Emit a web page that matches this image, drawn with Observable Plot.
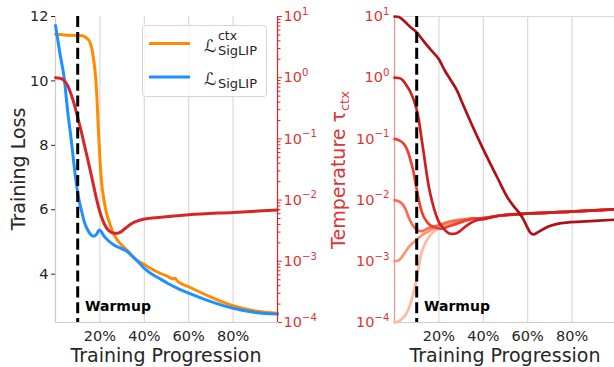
<!DOCTYPE html>
<html>
<head>
<meta charset="utf-8">
<script src="https://cdn.jsdelivr.net/npm/d3@7"></script>
<script src="https://cdn.jsdelivr.net/npm/@observablehq/plot@0.6"></script>
<style>
html, body { margin: 0; padding: 0; background: #fff; overflow: hidden; }
#chart { position: relative; width: 614px; height: 367px; overflow: hidden; font-family: "DejaVu Sans"; }
#chart svg { position: absolute; top: 0; max-width: none !important; }
</style>
</head>
<body>
<div id="chart"></div>
<script>
// ---------------- data ----------------
const xTickValues = [20, 40, 60, 80];
const lossTicks = [4, 6, 8, 10, 12];
const tempTicks = [1e-4, 1e-3, 1e-2, 1e-1, 1, 10];
const warmupAt = 10;

// left panel: training losses
const ctxX = [0,5,10,12,14,15.5,16.5,17.5,18.2,18.8,19.3,20,20.7,21.7,22.7,24.3,26.2,28.5,32.5,35.5,40,45,50.5,53,53.8,55,60,70,80,90,100];
const ctxLoss = [11.45,11.42,11.41,11.40,11.33,11.2,10.95,10.5,10.0,9.3,8.5,7.6,6.9,6.35,5.98,5.6,5.25,5.0,4.73,4.49,4.3,4.1,3.93,3.86,3.87,3.78,3.61,3.29,3.02,2.86,2.79];
const sigX = [0,2,3.9,5.5,7.3,8.5,9.6,10.6,11.7,13,14.5,16,17.2,18.5,19.7,20.5,21.7,23.5,26,29.5,32,34,37,40,43,47.5,50.5,55,60,70,80,90,100];
const sigLoss = [11.72,10.85,10.1,9.05,8.05,7.3,6.71,6.3,5.98,5.62,5.37,5.22,5.18,5.24,5.37,5.33,5.2,5.06,4.92,4.80,4.72,4.6,4.4,4.18,4.02,3.84,3.72,3.56,3.41,3.15,2.94,2.81,2.76];
// left panel: learned temperature
const tempX = [0,2,3.9,5.5,6.9,8.5,10,11.5,12.9,14.5,16,17.5,19,20.5,22,24,26.4,28,29.5,31.5,34,37,40,47.5,60,80,100];
const tempVal = [1.0,0.98,0.9,0.74,0.55,0.363,0.224,0.138,0.083,0.0468,0.0269,0.0151,0.0087,0.0056,0.00407,0.00316,0.00288,0.00288,0.00302,0.00347,0.00407,0.00457,0.0049,0.00525,0.00575,0.0063,0.0069];

// right panel: temperature runs by initial value
const runX_1e1 = [0,2,4.2,7,10.2,13,16,20,22.7,25,28,31,34,37,40,43.2,46.3,50.8,54,56,58,59.5,61.3,62.7,64,65.8,68,70.3,75,79.3,90,100];
const runT_1e1 = [10,9.8,8.5,6.8,5.4,4.0,2.95,2.0,1.3,0.955,0.63,0.355,0.2,0.115,0.0676,0.039,0.0234,0.0112,0.0077,0.0063,0.0049,0.0038,0.0029,0.00275,0.0029,0.00316,0.0035,0.0038,0.0042,0.00437,0.00457,0.0048];
const runX_1e0 = [0,2,3.5,5,7,8.7,10,11,12,13.2,14.3,15.5,17,18.5,20,22.2,24,26,28,29.7,32,34.2,37,40.2,47.7,59,79.3,100];
const runT_1e0 = [1.0,0.99,0.93,0.79,0.6,0.43,0.30,0.2,0.112,0.0575,0.030,0.0162,0.0093,0.006,0.00437,0.0034,0.00295,0.0028,0.00288,0.00316,0.0037,0.0042,0.0047,0.0049,0.0056,0.006,0.0065,0.0071];
const runX_1e_1 = [0,2,4.2,6,7.2,8.5,9.5,10.6,11.7,13,14.7,16,17.7,19.5,21.5,23,25.2,30,34.2,40,47.7,59,79.3,100];
const runT_1e_1 = [0.1,0.095,0.083,0.063,0.0447,0.0295,0.0186,0.0117,0.0076,0.0055,0.00437,0.0039,0.00363,0.00347,0.0034,0.00355,0.0038,0.00437,0.0049,0.0051,0.0056,0.006,0.0065,0.0071];
const runX_1e_2 = [0,2,3.5,5,6.4,8,9.5,11.7,13,14.7,17,19.2,23,28.2,34,40,47.7,59,79.3,100];
const runT_1e_2 = [0.01,0.0095,0.0087,0.0071,0.0052,0.004,0.0034,0.0031,0.00316,0.0034,0.00363,0.0038,0.00427,0.0047,0.005,0.0051,0.0056,0.006,0.0065,0.0071];
const runX_1e_3 = [0,1.5,2.7,4.5,6.4,8.3,10.2,12.5,14.7,17.5,20.7,24,28.2,34,40,47.7,59,79.3,100];
const runT_1e_3 = [0.001,0.00102,0.0011,0.00135,0.0017,0.002,0.00229,0.00269,0.003,0.0034,0.0038,0.00417,0.00447,0.0049,0.0051,0.0056,0.006,0.0065,0.0071];
const runX_1e_4 = [0,2,4.2,5.8,7.2,8.5,9.5,10.6,11.7,12.8,14,15.5,17,20.7,24,28.2,34,40,47.7,59,79.3,100];
const runT_1e_4 = [0.0001,0.000105,0.000123,0.00015,0.000204,0.0003,0.000427,0.0007,0.00117,0.00162,0.00204,0.0025,0.00288,0.00363,0.0041,0.00437,0.0048,0.0051,0.0056,0.006,0.0065,0.0071];

// ---------------- styles ----------------
const FONT = "DejaVu Sans";
const INK = "#262626";
const GRID = "#d9d9d9";
const SPINE = "#cccccc";
const RED = "#d62728";
const LABEL_RED = "#dc3535";
const PINK = "#f09090";
const ORANGE = "#ff8c00";
const BLUE = "#1e90ff";
const runColors = ["#fcbba1", "#fc9474", "#fb6c4c", "#f03f2e", "#d01d1f", "#ac1117"];

const H = 367, MT = 16, MB = 45;
const rows = (xs, ys) => xs.map((x, i) => ({x, y: ys[i]}));
const expFmt = d => "10^" + String(Math.round(Math.log10(d))).replace("-", "\u2212");
const minorTicks = [];
for (let e = -4; e < 1; e++) for (let k = 2; k <= 9; k++) minorTicks.push(k * Math.pow(10, e));

function base(w, ml, mr) {
  return {
    width: w, height: H, marginTop: MT, marginBottom: MB, marginLeft: ml, marginRight: mr,
    style: {background: "transparent", fontFamily: FONT, fontSize: "14.5px", color: INK, overflow: "visible"}
  };
}
const dashed = {stroke: "black", strokeWidth: 3, strokeDasharray: "11.1,4.8"};
const warmupText = () => Plot.text(["Warmup"], {
  x: () => 13.3, frameAnchor: "bottom", dy: -12, textAnchor: "start",
  fontWeight: "bold", fontSize: 14, fill: "black"
});

// ---------------- left panel: losses ----------------
const svgLoss = Plot.plot({
  ...base(310, 55, 33),
  x: {domain: [0, 100]},
  y: {domain: [2.5, 12]},
  marks: [
    Plot.ruleX(xTickValues, {stroke: GRID, strokeWidth: 1.2}),
    Plot.ruleX([0], {stroke: SPINE, strokeWidth: 1.2}),
    Plot.ruleY([2.5], {stroke: SPINE, strokeWidth: 1.2}),
    Plot.axisY({ticks: lossTicks, tickSize: 4, tickPadding: 3, label: null, color: INK}),
    Plot.axisX({ticks: xTickValues, tickFormat: d => d + "%", tickSize: 0, tickPadding: 8, label: null, color: INK}),
    Plot.line(rows(ctxX, ctxLoss), {x: "x", y: "y", stroke: ORANGE, strokeWidth: 3, curve: "monotone-x"}),
    Plot.line(rows(sigX, sigLoss), {x: "x", y: "y", stroke: BLUE, strokeWidth: 3, curve: "monotone-x"})
  ]
});

// ---------------- left panel: temperature (twin axis) ----------------
const svgTemp = Plot.plot({
  ...base(310, 55, 33),
  x: {domain: [0, 100], axis: null},
  y: {type: "log", domain: [1e-4, 10]},
  marks: [
    Plot.line(rows(tempX, tempVal), {x: "x", y: "y", stroke: RED, strokeWidth: 3, curve: "monotone-x"}),
    Plot.ruleX([100], {stroke: RED, strokeWidth: 1.2}),
    Plot.axisY({anchor: "right", ticks: minorTicks, tickSize: 2.5, tickFormat: () => "", label: null, color: RED}),
    Plot.axisY({anchor: "right", ticks: tempTicks, tickSize: 4, tickPadding: 2, tickFormat: expFmt, label: null, color: LABEL_RED}),
    Plot.ruleX([warmupAt], dashed),
    warmupText()
  ]
});

// ---------------- right panel ----------------
const runs = [
  [runX_1e_4, runT_1e_4], [runX_1e_3, runT_1e_3], [runX_1e_2, runT_1e_2],
  [runX_1e_1, runT_1e_1], [runX_1e0, runT_1e0], [runX_1e1, runT_1e1]
];
const svgRight = Plot.plot({
  ...base(310, 84, 4),
  x: {domain: [0, 100]},
  y: {type: "log", domain: [1e-4, 10]},
  marks: [
    Plot.ruleX(xTickValues, {stroke: GRID, strokeWidth: 1.2}),
    Plot.ruleY([10], {stroke: GRID, strokeWidth: 1.2}),
    Plot.ruleY([1e-4], {stroke: SPINE, strokeWidth: 1.2}),
    Plot.ruleX([0], {stroke: PINK, strokeWidth: 1.2}),
    Plot.axisY({ticks: tempTicks, tickSize: 0, tickPadding: 5, tickFormat: expFmt, label: null, color: LABEL_RED}),
    Plot.axisX({ticks: xTickValues, tickFormat: d => d + "%", tickSize: 0, tickPadding: 8, label: null, color: INK}),
    ...runs.map(([xs, ts], i) => Plot.line(rows(xs, ts), {x: "x", y: "y", stroke: runColors[i], strokeWidth: 2.7, curve: "monotone-x"})),
    Plot.ruleX([warmupAt], dashed),
    warmupText()
  ]
});

const chart = document.getElementById("chart");
svgLoss.style.left = "0px";
svgTemp.style.left = "0px";
svgRight.style.left = "310px";
chart.append(svgLoss, svgTemp, svgRight);

// superscript exponents on log tick labels
for (const svg of [svgTemp, svgRight]) {
  d3.select(svg).selectAll("text").each(function () {
    const m = /^10\^(.+)$/.exec(this.textContent);
    if (m) {
      const el = d3.select(this);
      el.text("10");
      el.append("tspan").attr("dy", "-0.62em").attr("font-size", "0.7em").text(m[1]);
    }
  });
}

// ---------------- titles & legend overlay ----------------
const ov = d3.select(chart).append("svg")
  .attr("width", 614).attr("height", 367)
  .style("left", "0px").style("pointer-events", "none")
  .attr("font-family", FONT);

ov.append("text").attr("transform", "translate(25,169) rotate(-90)")
  .attr("text-anchor", "middle").attr("font-size", 19).attr("fill", INK).text("Training Loss");
const tl = ov.append("text").attr("transform", "translate(345,170) rotate(-90)")
  .attr("text-anchor", "middle").attr("font-size", 19).attr("fill", LABEL_RED);
tl.append("tspan").text("Temperature \u03c4");
tl.append("tspan").attr("font-size", 13).attr("dy", 4).text("ctx");
ov.append("text").attr("x", 166).attr("y", 362).attr("text-anchor", "middle")
  .attr("font-size", 19).attr("fill", INK).text("Training Progression");
ov.append("text").attr("x", 505).attr("y", 362).attr("text-anchor", "middle")
  .attr("font-size", 19).attr("fill", INK).text("Training Progression");

// legend
const lg = ov.append("g");
lg.append("rect").attr("x", 142.5).attr("y", 25.5).attr("width", 124).attr("height", 71).attr("rx", 3)
  .attr("fill", "white").attr("fill-opacity", 0.8).attr("stroke", "#d5d5d5");
lg.append("line").attr("x1", 149).attr("x2", 190).attr("y1", 43.5).attr("y2", 43.5)
  .attr("stroke", ORANGE).attr("stroke-width", 3);
lg.append("line").attr("x1", 149).attr("x2", 190).attr("y1", 77).attr("y2", 77)
  .attr("stroke", BLUE).attr("stroke-width", 3);
lg.append("text").attr("x", 204).attr("y", 51.5).attr("font-size", 17).attr("fill", INK).text("\u2112");
lg.append("text").attr("x", 218).attr("y", 40).attr("font-size", 12.5).attr("fill", INK).text("ctx");
lg.append("text").attr("x", 218).attr("y", 55).attr("font-size", 13).attr("fill", INK).text("SigLIP");
lg.append("text").attr("x", 204).attr("y", 85).attr("font-size", 17).attr("fill", INK).text("\u2112");
lg.append("text").attr("x", 218).attr("y", 88).attr("font-size", 13).attr("fill", INK).text("SigLIP");
</script>
</body>
</html>
